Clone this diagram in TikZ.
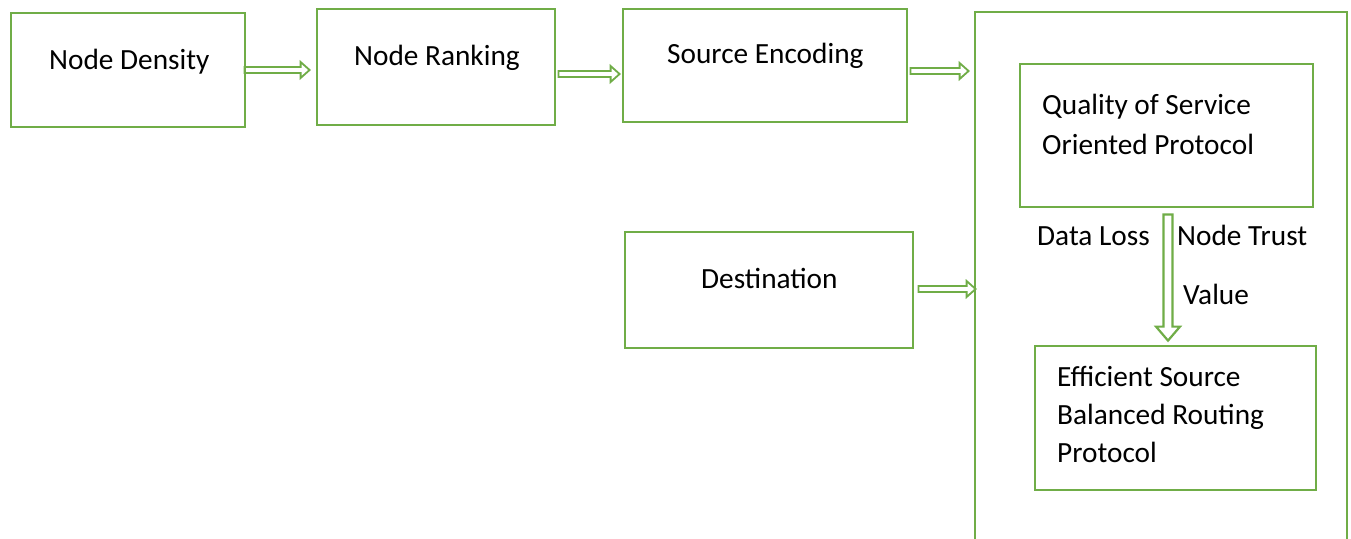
\documentclass[tikz,border=0pt]{standalone}
\usepackage{fontspec}
\setmainfont{Carlito}
\usetikzlibrary{calc}
\definecolor{grn}{HTML}{70AD47}
\tikzset{
  box/.style={draw=grn, line width=2.8pt, inner sep=0pt, fill=none},
  txt/.style={anchor=base west, inner sep=0pt, font=\fontsize{29.3}{35}\selectfont},
  harr/.style={draw=grn, line width=1.8pt, line join=miter, to path={
    ($(\tikztostart)+(0,-3)$) -- ($(\tikztotarget)+(-9,-3)$) -- ($(\tikztotarget)+(-9,-8)$)
    -- (\tikztotarget) -- ($(\tikztotarget)+(-9,8)$) -- ($(\tikztotarget)+(-9,3)$)
    -- ($(\tikztostart)+(0,3)$) -- cycle}},
  varr/.style={draw=grn, line width=2.2pt, line join=miter, to path={
    ($(\tikztostart)+(-4.5,0)$) -- ($(\tikztotarget)+(-4.5,-14)$) -- ($(\tikztotarget)+(-12,-14)$)
    -- (\tikztotarget) -- ($(\tikztotarget)+(12,-14)$) -- ($(\tikztotarget)+(4.5,-14)$)
    -- ($(\tikztostart)+(4.5,0)$) -- cycle}}
}
\begin{document}
\begin{tikzpicture}[x=1pt,y=-1pt]
\useasboundingbox (0,0) rectangle (1351,538);
\fill[white] (0,0) rectangle (1351,538);
% boxes
\node[box, minimum width=234pt, minimum height=114pt] (nd) at (128,70) {};
\node[box, minimum width=238pt, minimum height=116pt] (nr) at (436,67) {};
\node[box, minimum width=284pt, minimum height=113pt] (se) at (765,65.5) {};
\node[box, minimum width=372pt, minimum height=560pt] (big) at (1161,292) {};
\node[box, minimum width=293pt, minimum height=143pt] (qos) at (1166.5,135.5) {};
\node[box, minimum width=288pt, minimum height=116pt] (de) at (769,290) {};
\node[box, minimum width=281pt, minimum height=144pt] (ef) at (1175.5,418) {};
% texts
\node[txt] (t1) at (49,69) {Node Density};
\node[txt] (t2) at (354,65) {Node Ranking};
\node[txt] (t3) at (667,63) {Source Encoding};
\node[txt] (t4) at (1042,114) {Quality of Service};
\node[txt] (t5) at (1042,154) {Oriented Protocol};
\node[txt] (t6) at (1037,245) {Data Loss};
\node[txt] (t7) at (1177,245) {Node Trust};
\node[txt] (t8) at (1183,304) {Value};
\node[txt] (t9) at (701,288) {Destination};
\node[txt] (t10) at (1057,386) {Efficient Source};
\node[txt] (t11) at (1057,424) {Balanced Routing};
\node[txt] (t12) at (1057,462) {Protocol};
% arrows
\draw[harr] ([xshift=-2pt]nd.east |- 0,70) to ([xshift=-6pt]nr.west |- 0,70);
\draw[harr] ([xshift=2pt]nr.east |- 0,74) to ([xshift=-2pt]se.west |- 0,74);
\draw[harr] ([xshift=2pt]se.east |- 0,71) to ([xshift=-5pt]big.west |- 0,71);
\draw[harr] ([xshift=4pt]de.east |- 0,289) to ([xshift=2pt]big.west |- 0,289);
\coordinate (vs) at ([yshift=-6pt]qos.south -| 1168,0);
\coordinate (ve) at ([yshift=4pt]ef.north -| 1168,0);
\draw[varr] (vs) to (ve);
\end{tikzpicture}
\end{document}
